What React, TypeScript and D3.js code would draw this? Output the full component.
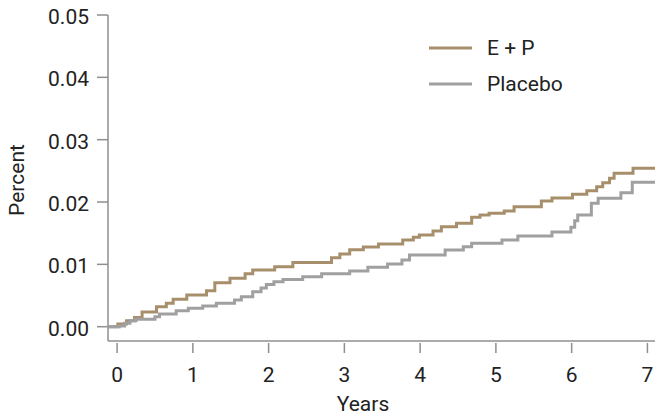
import React from "react";
import * as d3 from "d3";

// step points: year of the step, cumulative value after the step
const epYears = [0, 0.01, 0.125, 0.23, 0.33, 0.52, 0.65, 0.74, 0.92, 1.18, 1.29, 1.49, 1.69, 1.79, 2.08, 2.32, 2.83, 2.94, 3.07, 3.25, 3.45, 3.77, 3.91, 3.99, 4.17, 4.28, 4.48, 4.68, 4.79, 4.91, 5.11, 5.24, 5.6, 5.74, 6.01, 6.2, 6.33, 6.41, 6.5, 6.56, 6.81];
const epValues = [0, 0.00043, 0.00095, 0.00148, 0.00236, 0.00321, 0.00375, 0.00441, 0.00508, 0.00577, 0.00706, 0.00776, 0.0085, 0.0091, 0.00962, 0.0103, 0.01107, 0.01166, 0.01235, 0.01278, 0.01327, 0.01391, 0.01434, 0.01471, 0.01535, 0.01604, 0.01659, 0.01755, 0.01792, 0.01819, 0.01856, 0.01925, 0.02016, 0.02064, 0.02124, 0.02182, 0.02246, 0.0231, 0.0238, 0.02461, 0.02541];

const placeboYears = [0, 0.03, 0.1, 0.17, 0.25, 0.5, 0.56, 0.78, 0.94, 1.13, 1.31, 1.55, 1.64, 1.79, 1.9, 1.97, 2.07, 2.19, 2.45, 2.7, 3.07, 3.31, 3.57, 3.76, 3.86, 4.33, 4.57, 4.68, 5.08, 5.29, 5.74, 5.99, 6.04, 6.08, 6.26, 6.35, 6.65, 6.8];
const placeboValues = [0, 0.00011, 0.00055, 0.00096, 0.00119, 0.0016, 0.00204, 0.00257, 0.00295, 0.00332, 0.00375, 0.00428, 0.00481, 0.00561, 0.00621, 0.00677, 0.00722, 0.00757, 0.00802, 0.0085, 0.00893, 0.00953, 0.01006, 0.0107, 0.0115, 0.0123, 0.01283, 0.01338, 0.01391, 0.01455, 0.01519, 0.01594, 0.017, 0.01792, 0.01979, 0.0206, 0.0215, 0.02316];

const xTicks = [0, 1, 2, 3, 4, 5, 6, 7];
const yTicks = [0, 0.01, 0.02, 0.03, 0.04, 0.05];

const seriesNames = ["E + P", "Placebo"];
const seriesColors = ["#a88f6c", "#a0a0a0"];

const W = 655;
const H = 417;
const font = "Roboto, 'Liberation Sans', sans-serif";
const axisColor = "#8f8f8f";

export default function App() {
  const x = d3.scaleLinear().domain([-0.12, 7.1]).range([108, 655]);
  const y = d3.scaleLinear().domain([0, 0.05]).range([326.7, 15]);
  const axisY = 341;

  const line = d3
    .line<[number, number]>()
    .x(d => x(d[0]))
    .y(d => y(d[1]))
    .curve(d3.curveStepAfter);

  const makePath = (yrs: number[], vals: number[]) => {
    const pts: [number, number][] = yrs.map((t, i) => [t, vals[i]]);
    const [x0, x1] = x.domain();
    pts.unshift([x0, vals[0]]);
    pts.push([x1, vals[vals.length - 1]]);
    return line(pts) || "";
  };

  const paths = [makePath(epYears, epValues), makePath(placeboYears, placeboValues)];

  return (
    <svg width={W} height={H} style={{ position: "absolute", left: 0, top: 0, background: "#fff" }}>
      {/* axes */}
      <line x1={x.range()[0]} x2={x.range()[0]} y1={y(0.05)} y2={axisY} stroke={axisColor} strokeWidth={1.5} />
      <line x1={x.range()[0]} x2={x.range()[1]} y1={axisY} y2={axisY} stroke={axisColor} strokeWidth={1.5} />

      <g fontFamily={font} fontSize={21} fill="#222">
        {yTicks.map(t => (
          <g key={t}>
            <line x1={97} x2={108} y1={y(t)} y2={y(t)} stroke={axisColor} strokeWidth={1.5} />
            <text x={89} y={y(t) + 2} textAnchor="end" dominantBaseline="central">
              {d3.format(".2f")(t)}
            </text>
          </g>
        ))}

        {xTicks.map(t => (
          <g key={t}>
            <line x1={x(t)} x2={x(t)} y1={axisY + 2} y2={axisY + 12} stroke={axisColor} strokeWidth={1.5} />
            <text x={x(t)} y={382} textAnchor="middle">
              {t}
            </text>
          </g>
        ))}

        <text x={363} y={411} textAnchor="middle">Years</text>
        <text transform="translate(24,180) rotate(-90)" textAnchor="middle">Percent</text>
      </g>

      {/* series */}
      {paths.map((p, i) => (
        <path key={i} d={p} fill="none" stroke={seriesColors[i]} strokeWidth={3} />
      ))}

      {/* legend */}
      {seriesNames.map((name, i) => (
        <g key={name} transform={`translate(0,${48 + i * 36})`}>
          <line x1={429} x2={472} y1={0} y2={0} stroke={seriesColors[i]} strokeWidth={3} />
          <text x={487} y={0} dominantBaseline="central" fontFamily={font} fontSize={21} fill="#222">
            {name}
          </text>
        </g>
      ))}
    </svg>
  );
}
